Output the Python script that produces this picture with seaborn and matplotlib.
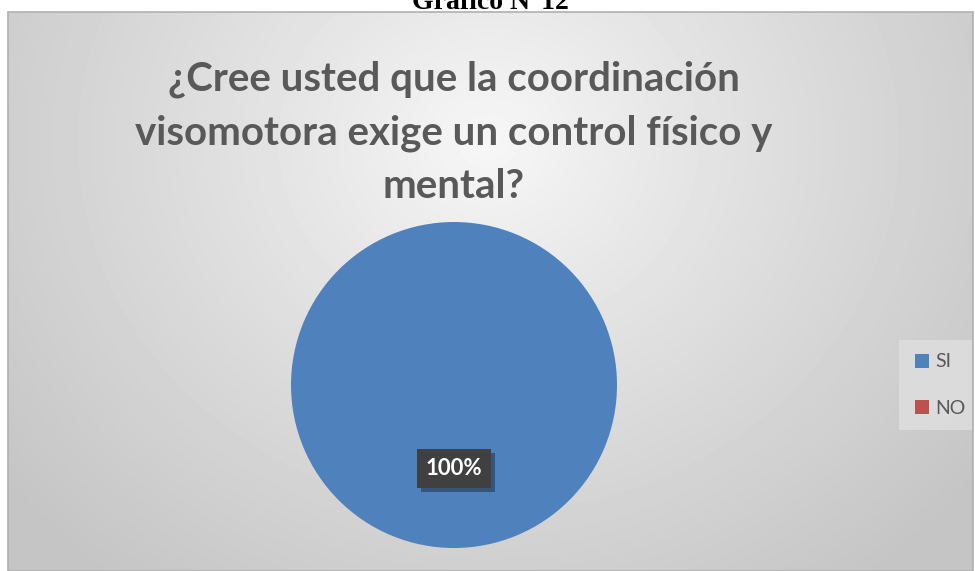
import numpy as np
import seaborn as sns
import matplotlib.pyplot as plt
from matplotlib.patches import Rectangle, Patch
import matplotlib.patheffects as pe

labels = ['SI', 'NO']
values = [100, 0]
colors = ['#4f81bd', '#c0504d']
title = '¿Cree usted que la coordinación\nvisomotora exige un control físico y\nmental?'

sns.set_style('white')
plt.rcParams['font.family'] = ['Lato', 'DejaVu Sans']

W, H = 975, 571
fig = plt.figure(figsize=(W / 100, H / 100), dpi=100)
fig.patch.set_facecolor('white')

# chart area with a radial gray gradient
x0, y0 = 8, 12
bg = fig.add_axes([x0 / W, 0, (973 - x0) / W, (H - y0) / H])
yy, xx = np.mgrid[0:H - y0, 0:973 - x0]
d = np.sqrt(((xx - 480) / 1.0) ** 2 + ((yy - 130) / 0.9) ** 2)
g = np.clip(d / 620, 0, 1)
img = 0.97 - (0.97 - 0.77) * g ** 0.9
bg.imshow(img, cmap='gray', vmin=0, vmax=1, aspect='auto', interpolation='bilinear')
bg.set_axis_off()
fig.patches.append(Rectangle((x0 / W, 0), (973 - x0) / W, (H - y0) / H,
                             transform=fig.transFigure, fill=False,
                             edgecolor='#b0b0b0', linewidth=1.2))

# document caption, cut off at the top
fig.text(490 / W, 1 - 9 / H, 'Gráfico N°12', ha='center', va='baseline',
         fontsize=20, fontweight='bold', family='Liberation Serif', color='black')

fig.text(454 / W, 1 - 60 / H, title, ha='center', va='top', fontsize=29,
         fontweight='bold', color='#595959', linespacing=1.55)

# pie
cx, cy, r = 454, 385, 163
ax = fig.add_axes([(cx - r) / W, (H - cy - r) / H, 2 * r / W, 2 * r / H])
wedges, _, autotexts = ax.pie(values, colors=colors, startangle=90, radius=1,
                              autopct=lambda p: f'{p:.0f}%' if p > 0 else '',
                              pctdistance=0.51,
                              textprops=dict(color='white', fontsize=16, fontweight='bold'))
for w in wedges:
    w.set_edgecolor('none')
for t in autotexts:
    t.set_bbox(dict(boxstyle='square,pad=0.4', facecolor='#404040', edgecolor='none'))
    t.get_bbox_patch().set_path_effects([pe.withSimplePatchShadow(offset=(3, -3), alpha=0.4), pe.Normal()])
ax.set_xlim(-1, 1)
ax.set_ylim(-1, 1)
ax.set_axis_off()

# legend panel
fig.patches.append(Rectangle((899 / W, 1 - 430 / H), 73 / W, 90 / H,
                             transform=fig.transFigure, facecolor='#dddddd',
                             edgecolor='none', alpha=0.9))
handles = [Patch(facecolor=c, edgecolor='none') for c in colors]
fig.legend(handles, labels, loc='center left', bbox_to_anchor=(897 / W, 1 - 385 / H),
           frameon=False, fontsize=14, handlelength=0.75, handleheight=0.75,
           handletextpad=0.3, labelspacing=1.5, labelcolor='#595959')

fig.savefig('out.png', dpi=100)
